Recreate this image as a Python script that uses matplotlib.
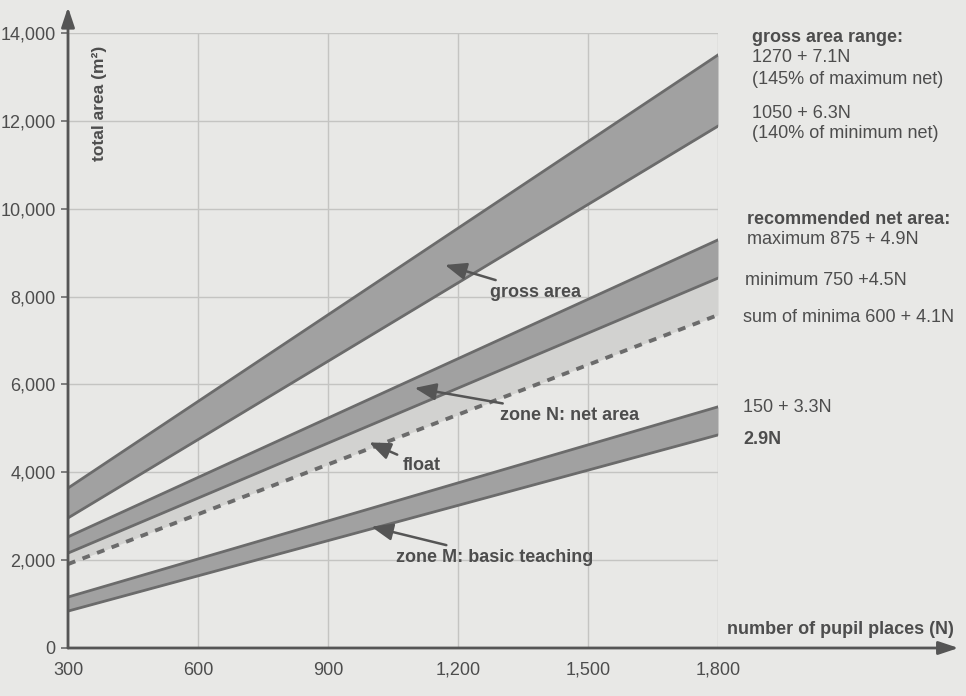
import matplotlib.pyplot as plt

# pupil places at the two ends of the chart
pupils = [300, 1800]

# band edges (m2) at N = 300 and N = 1800
gross_max = [3640, 13500]
gross_min = [2960, 11880]
net_max = [2530, 9290]
net_min = [2160, 8420]
sum_minima = [1910, 7580]
zone_m_upper = [1160, 5490]
zone_m_lower = [840, 4850]

x_ticks = [300, 600, 900, 1200, 1500, 1800]
x_labels = ['300', '600', '900', '1,200', '1,500', '1,800']
y_ticks = [0, 2000, 4000, 6000, 8000, 10000, 12000, 14000]
y_labels = ['0', '2,000', '4,000', '6,000', '8,000', '10,000', '12,000', '14,000']

# in-chart labels: text, arrow tip, text position
callouts = [
    ('gross area', (1170, 8720), (1275, 8100)),
    ('zone N: net area', (1100, 5920), (1297, 5300)),
    ('float', (995, 4680), (1072, 4160)),
    ('zone M: basic teaching', (1000, 2760), (1058, 2070)),
]

# right-hand notes: text, bold, x px, y px
notes = [
    ('gross area range:', True, 752, 37),
    ('1270 + 7.1N', False, 752, 57),
    ('(145% of maximum net)', False, 752, 80),
    ('1050 + 6.3N', False, 752, 113),
    ('(140% of minimum net)', False, 752, 134),
    ('recommended net area:', True, 747, 220),
    ('maximum 875 + 4.9N', False, 747, 239),
    ('minimum 750 +4.5N', False, 745, 280),
    ('sum of minima 600 + 4.1N', False, 743, 317),
    ('150 + 3.3N', False, 743, 407),
    ('2.9N', True, 743, 439),
    ('number of pupil places (N)', True, 727, 630),
]

plt.rcParams['font.family'] = ['Liberation Sans', 'DejaVu Sans']
bg = '#e8e8e6'
ink = '#4d4d4d'
edge = '#6b6b6b'
band = '#a1a1a1'
W, H = 966, 696

fig = plt.figure(figsize=(W / 100, H / 100), dpi=100, facecolor=bg)
ax = fig.add_axes([68 / W, 1 - 648 / H, 650 / W, 615 / H], facecolor=bg)

ax.set_xlim(300, 1800)
ax.set_ylim(0, 14000)
ax.set_xticks(x_ticks, x_labels)
ax.set_yticks(y_ticks, y_labels)
ax.tick_params(axis='x', length=0, pad=10, labelsize=13, labelcolor=ink)
ax.tick_params(axis='y', length=5, width=1.2, color=edge, pad=4, labelsize=13, labelcolor=ink)
ax.grid(True, color='#c4c4c2', linewidth=1)
ax.set_axisbelow(True)
for s in ax.spines.values():
    s.set_visible(False)

# bands
ax.fill_between(pupils, gross_min, gross_max, color=band, linewidth=0, zorder=2)
ax.fill_between(pupils, net_min, net_max, color=band, linewidth=0, zorder=2)
ax.fill_between(pupils, sum_minima, net_min, color='#d2d2d0', linewidth=0, zorder=2)
ax.fill_between(pupils, zone_m_lower, zone_m_upper, color=band, linewidth=0, zorder=2)
for series in [gross_max, gross_min, net_max, net_min, zone_m_upper, zone_m_lower]:
    ax.plot(pupils, series, color=edge, linewidth=2, zorder=3)
ax.plot(pupils, sum_minima, color=edge, linewidth=2.8, dashes=(2, 2), zorder=3)

for text, tip, pos in callouts:
    ax.annotate(text, xy=tip, xytext=pos, fontsize=13, color=ink, fontweight='bold',
                va='center', ha='left', zorder=4,
                arrowprops=dict(arrowstyle='-|>,head_length=1.0,head_width=0.4',
                                color='#555555', lw=1.8, shrinkA=2, shrinkB=0))

ax.text(372, 12400, 'total area (m²)', rotation=90, fontsize=12.5, fontweight='bold',
        color=ink, ha='center', va='center')

# axis arrows
ax.annotate('', xy=(0, 1.042), xytext=(0, 0), xycoords='axes fraction',
            annotation_clip=False,
            arrowprops=dict(arrowstyle='-|>,head_length=1.2,head_width=0.4',
                            color='#555555', lw=2, shrinkA=0, shrinkB=0))
ax.annotate('', xy=(1.37, 0), xytext=(0, 0), xycoords='axes fraction',
            annotation_clip=False,
            arrowprops=dict(arrowstyle='-|>,head_length=1.2,head_width=0.4',
                            color='#555555', lw=2, shrinkA=0, shrinkB=0))

for text, bold, px, py in notes:
    fig.text(px / W, 1 - py / H, text, fontsize=13, color=ink,
             fontweight='bold' if bold else 'normal', ha='left', va='center')

fig.savefig('out.png', dpi=100, facecolor=bg)
